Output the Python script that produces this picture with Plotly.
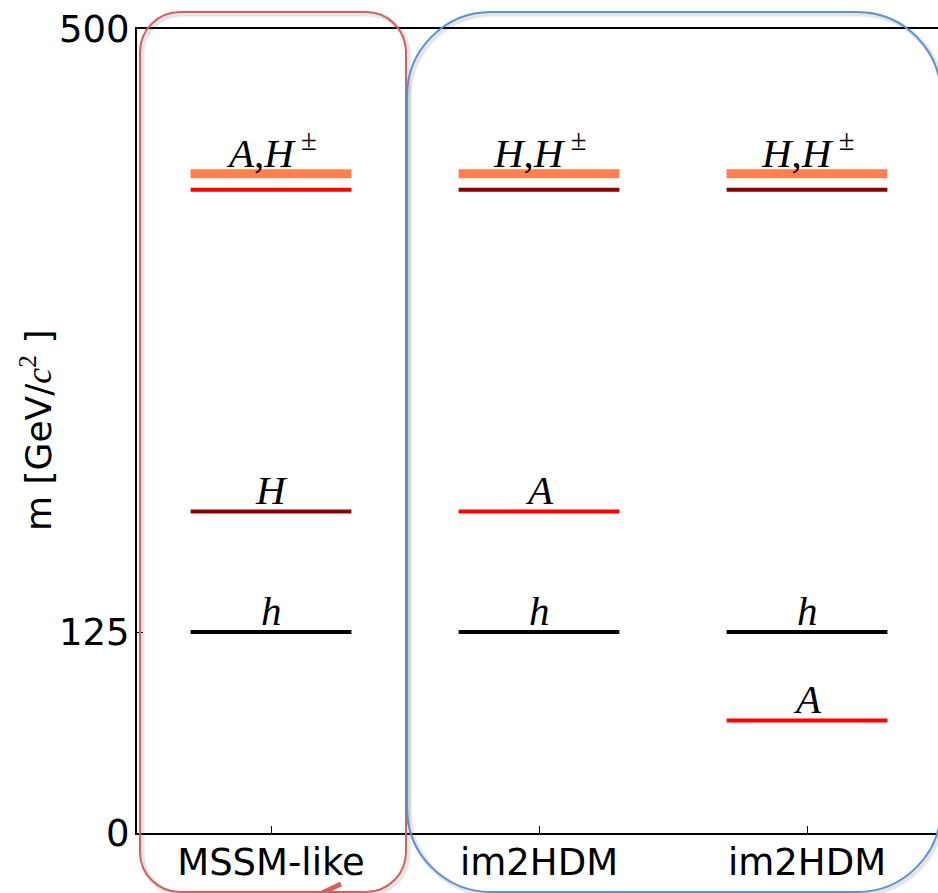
import plotly.graph_objects as go

# ---- data ----
models = ["MSSM-like", "im2HDM", "im2HDM"]
m_h = [125, 125, 125]        # light Higgs (black)
m_H = [200, 400, 400]        # heavy CP-even H (dark red)
m_A = [400, 200, 70]         # pseudoscalar A (red)
m_Hpm = [410, 410, 410]      # charged Higgs (coral, thick)

label_text = [
    ["<i>h</i>", "<i>H</i>", "<i>A</i>,<i>H</i><sup> ±</sup>"],
    ["<i>h</i>", "<i>A</i>", "<i>H</i>,<i>H</i><sup> ±</sup>"],
    ["<i>h</i>", "<i>A</i>", "<i>H</i>,<i>H</i><sup> ±</sup>"],
]
label_mass = [
    [125, 200, 410],
    [125, 200, 410],
    [125, 70, 410],
]
y_ticks = [0, 125, 500]

# ---- styling / layout ----
W, H = 938, 893
ML, MT, MB = 137, 29, 60
PW, PH = W - ML, H - MT - MB
HALF = 0.3


def px(x):
    return (x - ML) / PW


def py(y):
    return (H - MB - y) / PH


fig = go.Figure()

series = [
    (m_Hpm, "#FF7F50", 9),
    (m_A, "#FF0000", 4),
    (m_H, "#8B0000", 4),
    (m_h, "#000000", 4),
]
for vals, col, w in series:
    xs, ys = [], []
    for i, v in enumerate(vals):
        xs += [i - HALF, i + HALF, None]
        ys += [v, v, None]
    fig.add_trace(go.Scatter(x=xs, y=ys, mode="lines",
                             line=dict(color=col, width=w),
                             hoverinfo="skip", showlegend=False))

annotations = []
for i, (txts, ms) in enumerate(zip(label_text, label_mass)):
    for t, m in zip(txts, ms):
        annotations.append(dict(
            x=i, y=m, xref="x", yref="y", text=t, showarrow=False,
            yanchor="bottom", yshift=-4,
            font=dict(family="Liberation Serif", size=41, color="black")))

annotations.append(dict(
    x=px(36), y=0.5, xref="paper", yref="paper", xanchor="center", yanchor="middle",
    textangle=-90, showarrow=False,
    text='m [GeV/<span style="font-family:Liberation Serif"><i>c</i><sup>2</sup></span> ]',
    font=dict(family="DejaVu Sans", size=36, color="black")))


def rounded(x0, y0, x1, y1, r):
    # pixel coords, y downward; cubic approximations of quarter circles
    k = 0.5523 * r
    pts = []
    X = px
    Y = py
    return (f"M {X(x0+r)},{Y(y0)} L {X(x1-r)},{Y(y0)} "
            f"C {X(x1-r+k)},{Y(y0)} {X(x1)},{Y(y0+r-k)} {X(x1)},{Y(y0+r)} "
            f"L {X(x1)},{Y(y1-r)} "
            f"C {X(x1)},{Y(y1-r+k)} {X(x1-r+k)},{Y(y1)} {X(x1-r)},{Y(y1)} "
            f"L {X(x0+r)},{Y(y1)} "
            f"C {X(x0+r-k)},{Y(y1)} {X(x0)},{Y(y1-r+k)} {X(x0)},{Y(y1-r)} "
            f"L {X(x0)},{Y(y0+r)} "
            f"C {X(x0)},{Y(y0+r-k)} {X(x0+r-k)},{Y(y0)} {X(x0+r)},{Y(y0)} Z")


shapes = []
boxes = [
    (140, 12, 406, 892, 40, "#D0625F"),
    (407, 12, 941, 892, 84, "#5B91D2"),
]
for x0, y0, x1, y1, r, col in boxes:
    shapes.append(dict(type="path", xref="paper", yref="paper",
                       path=rounded(x0 + 2, y0 + 2, x1 + 2, y1 + 2, r),
                       line=dict(color="rgba(0,0,0,0.10)", width=5), layer="above"))
for x0, y0, x1, y1, r, col in boxes:
    shapes.append(dict(type="path", xref="paper", yref="paper",
                       path=rounded(x0, y0, x1, y1, r),
                       line=dict(color=col, width=2), layer="above"))
# arrow fragment at the bottom
shapes.append(dict(type="line", xref="paper", yref="paper",
                   x0=px(322), y0=py(893), x1=px(341), y1=py(884),
                   line=dict(color="#D0625F", width=5), layer="above"))

tick_font = dict(family="DejaVu Sans", size=37, color="black")
fig.update_layout(
    width=W, height=H,
    margin=dict(l=ML, r=0, t=MT, b=MB, pad=0),
    paper_bgcolor="white", plot_bgcolor="white",
    showlegend=False,
    annotations=annotations,
    shapes=shapes,
    xaxis=dict(range=[-0.5, -0.5 + 3 * PW / 804], tickvals=[0, 1, 2], ticktext=models,
               showgrid=False, zeroline=False, showline=True, mirror=True,
               linecolor="black", linewidth=1.5, ticks="inside", ticklen=7,
               tickcolor="black", tickfont=tick_font, ticklabelstandoff=-4,
               fixedrange=True),
    yaxis=dict(range=[0, 500], tickvals=y_ticks, ticktext=[str(v) for v in y_ticks],
               showgrid=False, zeroline=False, showline=True, mirror=False,
               linecolor="black", linewidth=2, ticks="inside", ticklen=6,
               tickcolor="black", tickfont=tick_font, ticklabelstandoff=-2,
               fixedrange=True),
)

fig.write_html("out.html")
